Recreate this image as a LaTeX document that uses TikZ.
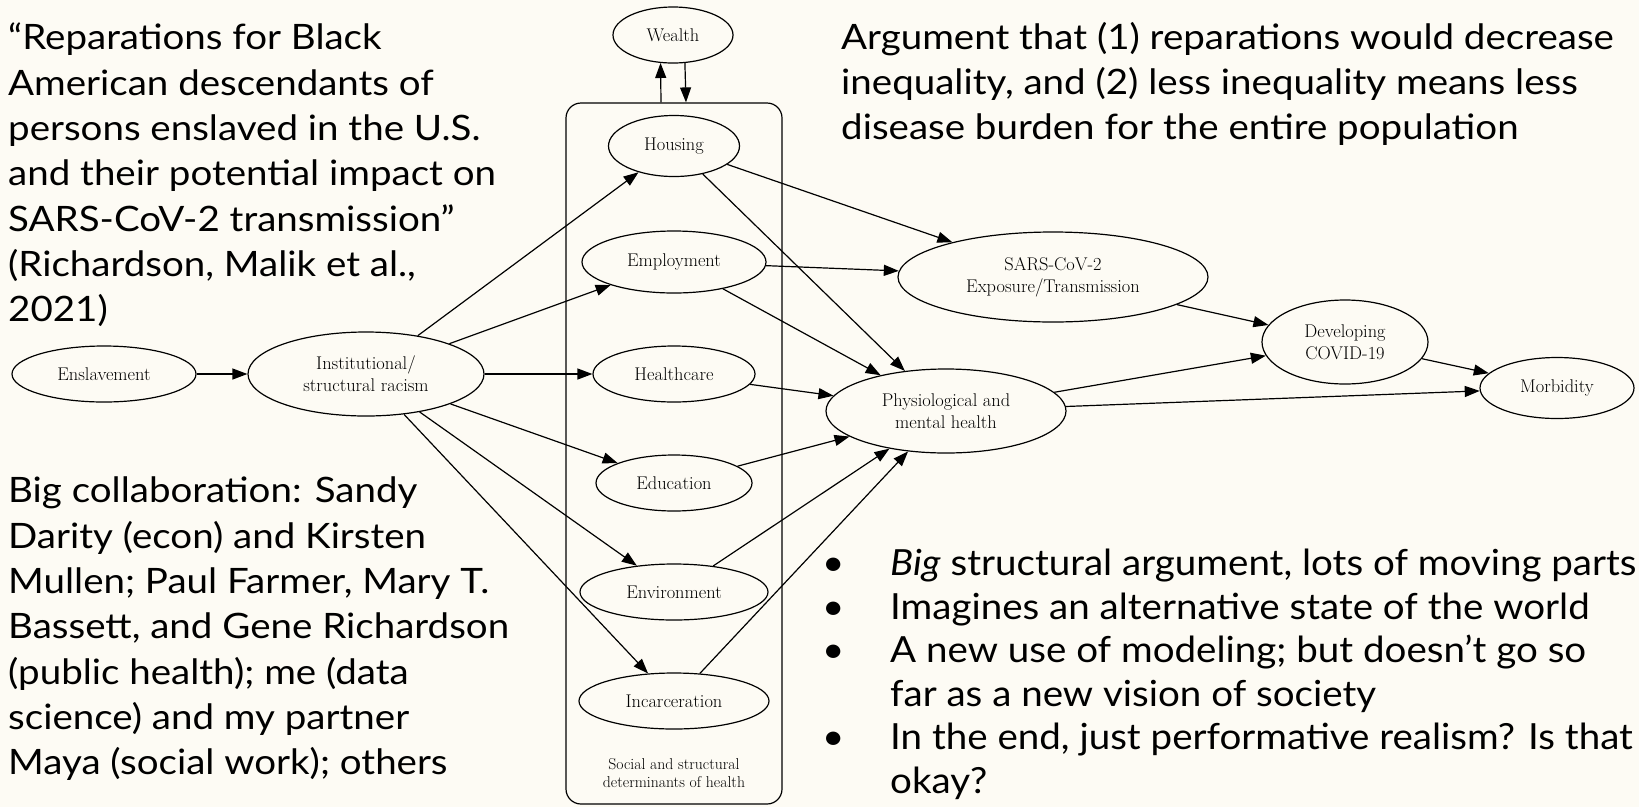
\documentclass[tikz,border=0pt]{standalone}
\usepackage{fontspec}
\newfontfamily\slidefont[FakeStretch=1.1]{Lato}
\newfontfamily\bulletfont[FakeStretch=1.07]{Lato}
\usetikzlibrary{shapes.geometric,arrows.meta}
\definecolor{paper}{RGB}{253,251,244}

\begin{document}
\begin{tikzpicture}[x=1pt,y=-1pt,
  every node/.style={inner sep=0pt},
  var/.style={draw, ellipse, line width=1.2pt, align=center,
    font=\fontsize{18.4}{22}\selectfont},
  arr/.style={line width=1.2pt, -{Triangle[length=15pt,width=11pt]}},
  prose/.style={align=left, anchor=north west,
    font=\slidefont\fontsize{35}{45.3}\selectfont},
  bullets/.style={align=left, anchor=north west,
    font=\bulletfont\fontsize{36}{43.5}\selectfont}]

\fill[paper] (0,0) rectangle (1639,807);
\useasboundingbox (0,0) rectangle (1639,807);

% causal graph
\node[var, minimum width=184pt, minimum height=56pt] (ensl) at (104,374) {Enslavement};
\node[var, minimum width=236pt, minimum height=84pt] (inst) at (366,374) {Institutional/\\structural racism};

\node[draw, rounded corners=15pt, line width=1.2pt, minimum width=216pt, minimum height=701pt] (box) at (674,453.5) {};
\node[var, minimum width=120pt, minimum height=56pt] (wealth) at (673,35) {Wealth};

\node[var, minimum width=131pt, minimum height=61pt] (housing) at (674,146) {Housing};
\node[var, minimum width=184pt, minimum height=62pt] (employment) at (674,262) {Employment};
\node[var, minimum width=162pt, minimum height=56pt] (healthcare) at (674,374) {Healthcare};
\node[var, minimum width=156pt, minimum height=56pt] (education) at (674,483) {Education};
\node[var, minimum width=188pt, minimum height=56pt] (environment) at (674,592) {Environment};
\node[var, minimum width=190pt, minimum height=56pt] (incarceration) at (674,701) {Incarceration};
\node[align=center, font=\fontsize{15.7}{18}\selectfont] (sdh) at (674,773) {Social and structural\\determinants of health};

\node[var, minimum width=310pt, minimum height=90pt] (sars) at (1053,277) {SARS-CoV-2\\Exposure/Transmission};
\node[var, minimum width=240pt, minimum height=84pt] (phys) at (946,411) {Physiological and\\mental health};
\node[var, minimum width=166pt, minimum height=84pt] (dev) at (1345,342) {Developing\\COVID-19};
\node[var, minimum width=154pt, minimum height=61pt] (morb) at (1557,388) {Morbidity};

\draw[arr] (ensl) -- (inst);
\foreach \t in {housing,employment,healthcare,education,environment,incarceration}
  \draw[arr] (inst) -- (\t);
\draw[arr] ([xshift=-13pt]box.north) -- (wealth.246);
\draw[arr] (wealth.293.5) -- ([xshift=12pt]box.north);
\draw[arr] (housing) -- (sars);
\draw[arr] (housing) -- (phys);
\draw[arr] (employment) -- (sars);
\draw[arr] (employment) -- (phys);
\draw[arr] (healthcare) -- (phys);
\draw[arr] (education) -- (phys);
\draw[arr] (environment) -- (phys);
\draw[arr] (incarceration) -- (phys);
\draw[arr] (sars) -- (dev);
\draw[arr] (phys) -- (dev);
\draw[arr] (phys) -- (morb);
\draw[arr] (dev) -- (morb);

% slide text
\node[prose] (paper) at (8,23) {“Reparations for Black\\American descendants of\\persons enslaved in the U.S.\\and their potential impact on\\SARS-CoV-2 transmission”\\(Richardson, Malik et al.,\\2021)};
\node[prose] (team) at (8,477) {Big collaboration: Sandy\\Darity (econ) and Kirsten\\Mullen; Paul Farmer, Mary T.\\Bassett, and Gene Richardson\\(public health); me (data\\science) and my partner\\Maya (social work); others};
\node[prose] (claim) at (841,22) {Argument that (1) reparations would decrease\\inequality, and (2) less inequality means less\\disease burden for the entire population};
\node[bullets] (points) at (822,549) {%
  \makebox[68pt][l]{•}\textit{Big} structural argument, lots of moving parts\\
  \makebox[68pt][l]{•}Imagines an alternative state of the world\\
  \makebox[68pt][l]{•}A new use of modeling; but doesn’t go so\\
  \hspace*{68pt}far as a new vision of society\\
  \makebox[68pt][l]{•}In the end, just performative realism? Is that\\
  \hspace*{68pt}okay?};
\end{tikzpicture}
\end{document}
